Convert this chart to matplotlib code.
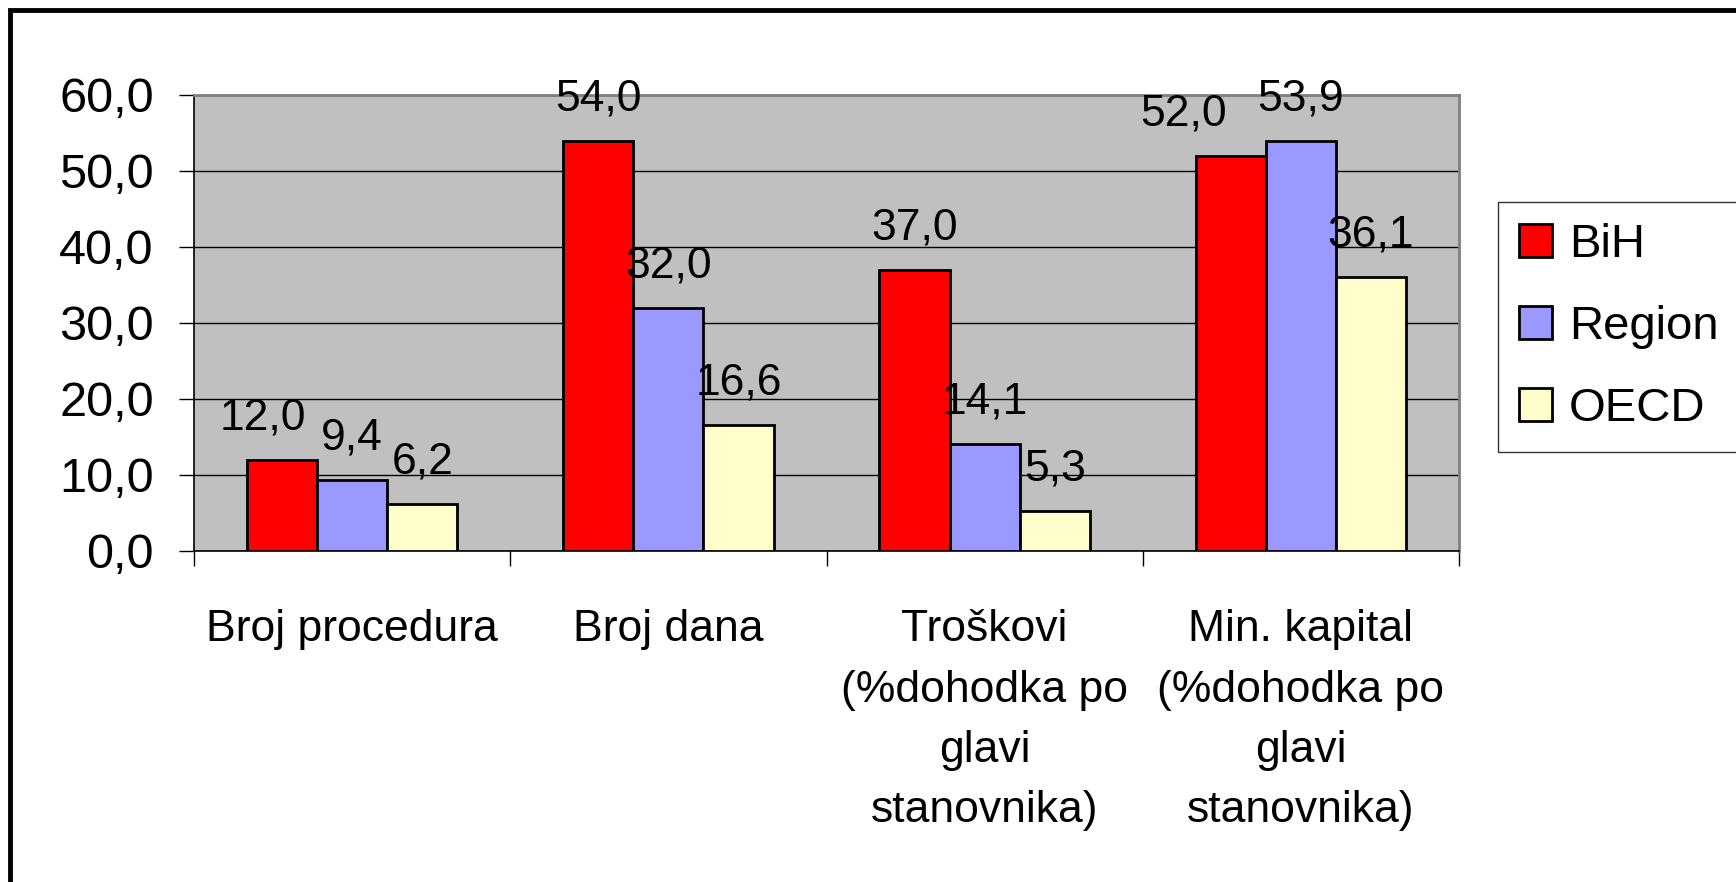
import numpy as np
import matplotlib
matplotlib.use('Agg')
import matplotlib.pyplot as plt
from matplotlib.patches import Rectangle

plt.rcParams['font.family'] = ['Liberation Sans', 'DejaVu Sans']

categories = ['Broj procedura', 'Broj dana',
              'Troškovi\n(%dohodka po\nglavi\nstanovnika)',
              'Min. kapital\n(%dohodka po\nglavi\nstanovnika)']
series = ['BiH', 'Region', 'OECD']
bih = [12.0, 54.0, 37.0, 52.0]
region = [9.4, 32.0, 14.1, 53.9]
oecd = [6.2, 16.6, 5.3, 36.1]
colors = ['#FF0000', '#9999FF', '#FFFFCC']

def fmt(v):
    return f'{v:.1f}'.replace('.', ',')

fig = plt.figure(figsize=(17.36, 8.82), dpi=100)
ax = fig.add_axes([194/1736, 1-551/882, (1459-194)/1736, (551-95)/882])
ax.set_facecolor('#C0C0C0')

x = np.arange(len(categories))
w = 0.222
# label nudges (points) like excel shifts colliding labels
nudge = {(0, 0): -14, (0, 3): -34}
for i, (name, vals) in enumerate(zip(series, [bih, region, oecd])):
    pos = x + (i - 1) * w
    ax.bar(pos, vals, width=w, color=colors[i], edgecolor='black',
           linewidth=2, label=name, zorder=3)
    for j, (p, v) in enumerate(zip(pos, vals)):
        ax.annotate(fmt(v), (p, v), xytext=(nudge.get((i, j), 0), 22),
                    textcoords='offset points', ha='center', va='baseline',
                    fontsize=32, zorder=4)

ax.set_xlim(-0.5, 3.5)
ax.set_ylim(0, 60)
ax.set_yticks(np.arange(0, 61, 10))
ax.set_yticklabels([fmt(v) for v in np.arange(0, 61, 10)], fontsize=35)
ax.yaxis.grid(True, color='black', linewidth=1)
ax.set_axisbelow(True)

ax.set_xticks(np.arange(-0.5, 4, 1))
ax.set_xticklabels([])
ax.set_xticks(x, minor=True)
ax.set_xticklabels(categories, minor=True, fontsize=32, linespacing=1.6)
ax.tick_params(axis='x', which='minor', length=0, pad=42)
ax.tick_params(axis='both', which='major', length=11, width=1, direction='out')
ax.tick_params(axis='y', pad=18)

for s in ['left', 'bottom']:
    ax.spines[s].set_color('black')
    ax.spines[s].set_linewidth(1.2)
for s in ['top', 'right']:
    ax.spines[s].set_color('#808080')
    ax.spines[s].set_linewidth(2)

leg = fig.legend(loc='upper left', bbox_to_anchor=(1498/1736, 1-202/882),
                 fontsize=34, frameon=True, fancybox=False, handlelength=0.7,
                 handleheight=0.7, handletextpad=0.35, labelspacing=0.8,
                 borderpad=0.45, borderaxespad=0)
leg.get_frame().set_edgecolor('black')
leg.get_frame().set_linewidth(1)
for h in leg.legend_handles:
    h.set_linewidth(2)

# outer chart frame, runs off the right and bottom edges
fig.add_artist(Rectangle((10/1736, -0.1), 1.2, 1 - 10/882 + 0.1,
                         transform=fig.transFigure, fill=False,
                         edgecolor='black', linewidth=3.5))

fig.savefig('out.png', dpi=100)
